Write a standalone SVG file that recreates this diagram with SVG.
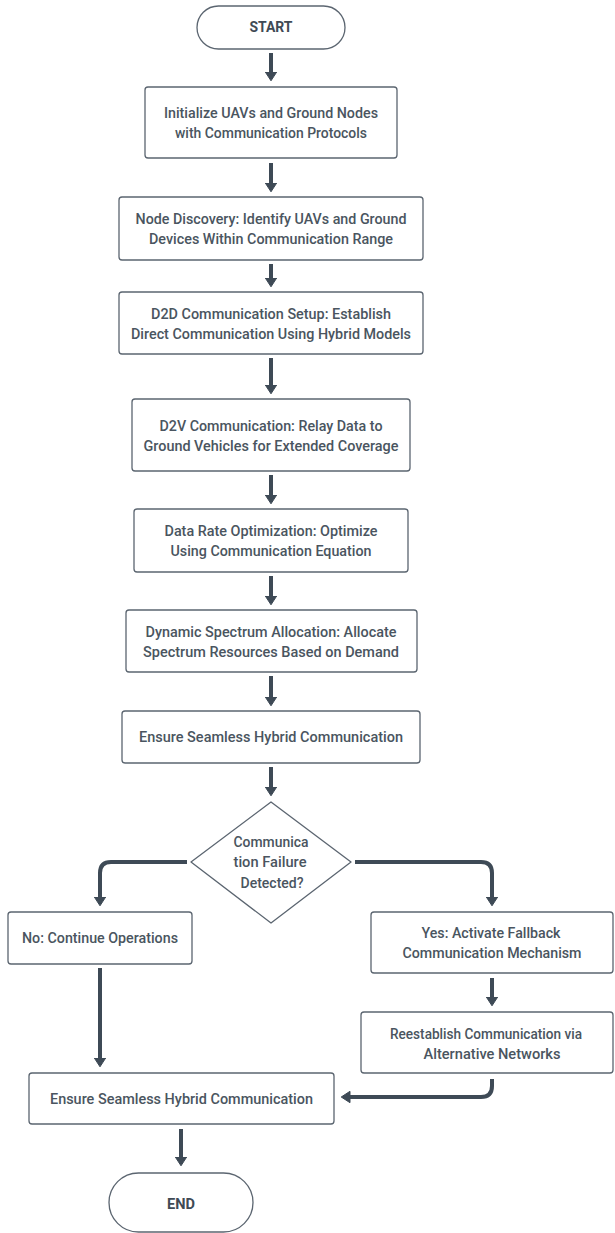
<svg xmlns="http://www.w3.org/2000/svg" width="615" height="1233" viewBox="0 0 615 1233">
<defs>
<style>
.box{fill:#ffffff;stroke:#5b6570;stroke-width:1.3}
.t{font-family:Roboto,"Liberation Sans",sans-serif;font-size:14px;font-weight:500;fill:#4a5560;text-anchor:middle}
.b{font-weight:700;fill:#3f4a55}
.c{fill:none;stroke:#3e4a56;stroke-width:4;stroke-linecap:butt;stroke-linejoin:round}
</style>
<marker id="ah" viewBox="0 0 10 13" refX="0.5" refY="6.5" markerWidth="10" markerHeight="13" markerUnits="userSpaceOnUse" orient="auto">
<path d="M0.5,0.8 L9.3,6.5 L0.5,12.2 Z" fill="#3e4a56" stroke="#3e4a56" stroke-width="1" stroke-linejoin="round"/>
</marker>
</defs>
<rect width="615" height="1233" fill="#ffffff"/>

<g id="connectors">
<path class="c" marker-end="url(#ah)" d="M271,53 V72"/>
<path class="c" marker-end="url(#ah)" d="M271,163 V183"/>
<path class="c" marker-end="url(#ah)" d="M271,264 V278"/>
<path class="c" marker-end="url(#ah)" d="M271,358 V385"/>
<path class="c" marker-end="url(#ah)" d="M271,475 V495"/>
<path class="c" marker-end="url(#ah)" d="M271,576 V596"/>
<path class="c" marker-end="url(#ah)" d="M271,676 V697"/>
<path class="c" marker-end="url(#ah)" d="M271,767 V787"/>
<path class="c" marker-end="url(#ah)" d="M187,862 H111 Q100,862 100,873 V897"/>
<path class="c" marker-end="url(#ah)" d="M355,862 H481 Q492,862 492,873 V897"/>
<path class="c" marker-end="url(#ah)" d="M100,968 V1058"/>
<path class="c" marker-end="url(#ah)" d="M492,978 V997"/>
<path class="c" marker-end="url(#ah)" d="M492,1079 V1086 Q492,1097 481,1097 H350"/>
<path class="c" marker-end="url(#ah)" d="M181,1129 V1157"/>
</g>

<g id="start">
<rect class="box" x="197" y="6" width="148" height="43" rx="21.5"/>
<text class="t b" x="271" y="32" textLength="43" lengthAdjust="spacingAndGlyphs">START</text>
</g>

<g id="init">
<rect class="box" x="145" y="87" width="252" height="71" rx="3"/>
<text class="t" x="271" y="118" textLength="214" lengthAdjust="spacingAndGlyphs">Initialize UAVs and Ground Nodes</text>
<text class="t" x="271" y="138" textLength="192" lengthAdjust="spacingAndGlyphs">with Communication Protocols</text>
</g>

<g id="discovery">
<rect class="box" x="119" y="197" width="304" height="63" rx="3"/>
<text class="t" x="271" y="224" textLength="271" lengthAdjust="spacingAndGlyphs">Node Discovery: Identify UAVs and Ground</text>
<text class="t" x="271" y="244" textLength="244" lengthAdjust="spacingAndGlyphs">Devices Within Communication Range</text>
</g>

<g id="d2d">
<rect class="box" x="119" y="292" width="304" height="62" rx="3"/>
<text class="t" x="271" y="319" textLength="240" lengthAdjust="spacingAndGlyphs">D2D Communication Setup: Establish</text>
<text class="t" x="271" y="339" textLength="280" lengthAdjust="spacingAndGlyphs">Direct Communication Using Hybrid Models</text>
</g>

<g id="d2v">
<rect class="box" x="132" y="399" width="278" height="72" rx="3"/>
<text class="t" x="271" y="431" textLength="223" lengthAdjust="spacingAndGlyphs">D2V Communication: Relay Data to</text>
<text class="t" x="271" y="451" textLength="255" lengthAdjust="spacingAndGlyphs">Ground Vehicles for Extended Coverage</text>
</g>

<g id="datarate">
<rect class="box" x="134" y="509" width="274" height="63" rx="3"/>
<text class="t" x="271" y="536" textLength="213" lengthAdjust="spacingAndGlyphs">Data Rate Optimization: Optimize</text>
<text class="t" x="271" y="556" textLength="201" lengthAdjust="spacingAndGlyphs">Using Communication Equation</text>
</g>

<g id="spectrum">
<rect class="box" x="126" y="610" width="291" height="62" rx="3"/>
<text class="t" x="271" y="637" textLength="251" lengthAdjust="spacingAndGlyphs">Dynamic Spectrum Allocation: Allocate</text>
<text class="t" x="271" y="657" textLength="256" lengthAdjust="spacingAndGlyphs">Spectrum Resources Based on Demand</text>
</g>

<g id="ensure1">
<rect class="box" x="122" y="711" width="298" height="52" rx="3"/>
<text class="t" x="271" y="742" textLength="264" lengthAdjust="spacingAndGlyphs">Ensure Seamless Hybrid Communication</text>
</g>

<g id="decision">
<path class="box" stroke-linejoin="round" d="M271,802 L351,862 L271,923 L191,862 Z"/>
<text class="t" x="271" y="847" textLength="75" lengthAdjust="spacingAndGlyphs">Communica</text>
<text class="t" x="270" y="867" textLength="73" lengthAdjust="spacingAndGlyphs">tion Failure</text>
<text class="t" x="272" y="888" textLength="63" lengthAdjust="spacingAndGlyphs">Detected?</text>
</g>

<g id="no">
<rect class="box" x="8" y="912" width="184" height="52" rx="3"/>
<text class="t" x="100" y="943" textLength="156" lengthAdjust="spacingAndGlyphs">No: Continue Operations</text>
</g>

<g id="yes">
<rect class="box" x="371" y="912" width="242" height="61" rx="3"/>
<text class="t" x="491" y="938" textLength="139" lengthAdjust="spacingAndGlyphs">Yes: Activate Fallback</text>
<text class="t" x="492" y="958" textLength="179" lengthAdjust="spacingAndGlyphs">Communication Mechanism</text>
</g>

<g id="reestablish">
<rect class="box" x="361" y="1012" width="252" height="61" rx="3"/>
<text class="t" x="486" y="1039" textLength="192" lengthAdjust="spacingAndGlyphs">Reestablish Communication via</text>
<text class="t" x="492" y="1059" textLength="137" lengthAdjust="spacingAndGlyphs">Alternative Networks</text>
</g>

<g id="ensure2">
<rect class="box" x="29" y="1073" width="305" height="51" rx="3"/>
<text class="t" x="181.5" y="1104" textLength="263" lengthAdjust="spacingAndGlyphs">Ensure Seamless Hybrid Communication</text>
</g>

<g id="end">
<rect class="box" x="109" y="1173" width="144" height="59" rx="29.5"/>
<text class="t b" x="181" y="1209" textLength="28" lengthAdjust="spacingAndGlyphs">END</text>
</g>
</svg>
